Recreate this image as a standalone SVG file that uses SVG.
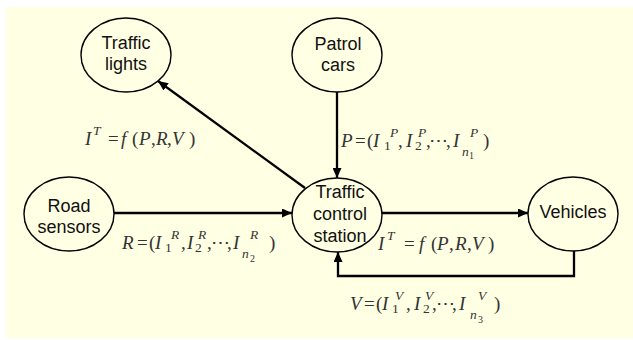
<svg xmlns="http://www.w3.org/2000/svg" width="633" height="340" viewBox="0 0 633 340">
  <defs>
    <marker id="arrow" viewBox="0 0 10 9" refX="10" refY="4.5" markerWidth="10" markerHeight="9" markerUnits="userSpaceOnUse" orient="auto">
      <path d="M0,0 L10,4.5 L0,9 Z" fill="#000"/>
    </marker>
    <style>
      .node ellipse { fill: none; stroke: #000; stroke-width: 1.4; }
      .node text { font-family: "Liberation Sans", Arial, sans-serif; font-size: 18px; fill: #111; text-anchor: middle; }
      .edge { fill: none; stroke: #000; stroke-width: 2.3; marker-end: url(#arrow); }
      .math { font-family: "Liberation Serif", "Times New Roman", serif; font-size: 19px; fill: #333; }
      .math .v { font-style: italic; }
      .math .s { font-size: 13.5px; }
      .math .ss { font-size: 10px; }
    </style>
  </defs>

  <!-- background panel -->
  <rect x="6" y="7" width="627" height="331" fill="#FFFFE3"/>

  <!-- connectors -->
  <g id="connectors">
    <line class="edge" x1="305" y1="188" x2="158" y2="81"/>
    <line class="edge" x1="337" y1="92" x2="337" y2="178"/>
    <line class="edge" x1="114" y1="213" x2="292" y2="213"/>
    <line class="edge" x1="382" y1="213" x2="528" y2="213"/>
    <polyline class="edge" points="574,251 574,276 338,276 338,252"/>
  </g>

  <!-- nodes -->
  <g id="traffic-lights" class="node">
    <ellipse cx="126" cy="55" rx="45" ry="37"/>
    <text x="126" y="49">Traffic</text>
    <text x="126" y="70">lights</text>
  </g>
  <g id="patrol-cars" class="node">
    <ellipse cx="337" cy="55" rx="45" ry="37"/>
    <text x="338" y="50">Patrol</text>
    <text x="338" y="71">cars</text>
  </g>
  <g id="road-sensors" class="node">
    <ellipse cx="69" cy="214" rx="45" ry="37"/>
    <text x="69" y="212">Road</text>
    <text x="69" y="233">sensors</text>
  </g>
  <g id="control-station" class="node">
    <ellipse cx="337" cy="215" rx="45" ry="37"/>
    <text x="340" y="198">Traffic</text>
    <text x="340" y="220">control</text>
    <text x="340" y="242">station</text>
  </g>
  <g id="vehicles" class="node">
    <ellipse cx="573" cy="214" rx="45" ry="37"/>
    <text x="573" y="218">Vehicles</text>
  </g>

  <!-- edge labels -->
  <text class="math" id="label-it-left">
    <tspan class="v" x="85" y="145">I</tspan><tspan class="v s" x="93" y="135">T</tspan><tspan x="108" y="145">=</tspan><tspan class="v" x="121" y="145">f</tspan><tspan x="132" y="145">(</tspan><tspan class="v" x="139" y="145">P</tspan><tspan x="151" y="145">,</tspan><tspan class="v" x="156" y="145">R</tspan><tspan x="167" y="145">,</tspan><tspan class="v" x="172" y="145">V</tspan><tspan x="189" y="145">)</tspan>
  </text>

  <text class="math" id="label-p">
    <tspan class="v" x="341" y="147">P</tspan><tspan x="355" y="147">=</tspan><tspan x="367" y="147">(</tspan><tspan class="v" x="373" y="147">I</tspan><tspan class="s" x="384" y="150">1</tspan><tspan class="v s" x="390" y="137">P</tspan><tspan x="398" y="147">,</tspan><tspan class="v" x="406" y="147">I</tspan><tspan class="s" x="415" y="150">2</tspan><tspan class="v s" x="418" y="137">P</tspan><tspan x="426" y="147">,</tspan><tspan x="429" y="147">⋯</tspan><tspan x="446" y="147">,</tspan><tspan class="v" x="453" y="147">I</tspan><tspan class="v s" x="462" y="156">n</tspan><tspan class="ss" x="469" y="159">1</tspan><tspan class="v s" x="470" y="137">P</tspan><tspan x="483" y="147">)</tspan>
  </text>

  <text class="math" id="label-r">
    <tspan class="v" x="122" y="249">R</tspan><tspan x="137" y="249">=</tspan><tspan x="149" y="249">(</tspan><tspan class="v" x="155" y="249">I</tspan><tspan class="s" x="165" y="252">1</tspan><tspan class="v s" x="171" y="239">R</tspan><tspan x="181" y="249">,</tspan><tspan class="v" x="187" y="249">I</tspan><tspan class="s" x="195" y="252">2</tspan><tspan class="v s" x="198" y="239">R</tspan><tspan x="207" y="249">,</tspan><tspan x="211" y="249">⋯</tspan><tspan x="227" y="249">,</tspan><tspan class="v" x="233" y="249">I</tspan><tspan class="v s" x="242" y="258">n</tspan><tspan class="ss" x="250" y="262">2</tspan><tspan class="v s" x="250" y="239">R</tspan><tspan x="269" y="249">)</tspan>
  </text>

  <text class="math" id="label-it-right">
    <tspan class="v" x="378" y="250">I</tspan><tspan class="v s" x="387" y="240">T</tspan><tspan x="404" y="250">=</tspan><tspan class="v" x="419" y="250">f</tspan><tspan x="431" y="250">(</tspan><tspan class="v" x="437" y="250">P</tspan><tspan x="449" y="250">,</tspan><tspan class="v" x="455" y="250">R</tspan><tspan x="467" y="250">,</tspan><tspan class="v" x="472" y="250">V</tspan><tspan x="488" y="250">)</tspan>
  </text>

  <text class="math" id="label-v">
    <tspan class="v" x="350" y="310">V</tspan><tspan x="364" y="310">=</tspan><tspan x="376" y="310">(</tspan><tspan class="v" x="382" y="310">I</tspan><tspan class="s" x="392" y="313">1</tspan><tspan class="v s" x="395" y="300">V</tspan><tspan x="406" y="310">,</tspan><tspan class="v" x="414" y="310">I</tspan><tspan class="s" x="423" y="313">2</tspan><tspan class="v s" x="425" y="300">V</tspan><tspan x="432" y="310">,</tspan><tspan x="436" y="310">⋯</tspan><tspan x="452" y="310">,</tspan><tspan class="v" x="459" y="310">I</tspan><tspan class="v s" x="470" y="319">n</tspan><tspan class="ss" x="478" y="323">3</tspan><tspan class="v s" x="478" y="300">V</tspan><tspan x="494" y="310">)</tspan>
  </text>
</svg>
